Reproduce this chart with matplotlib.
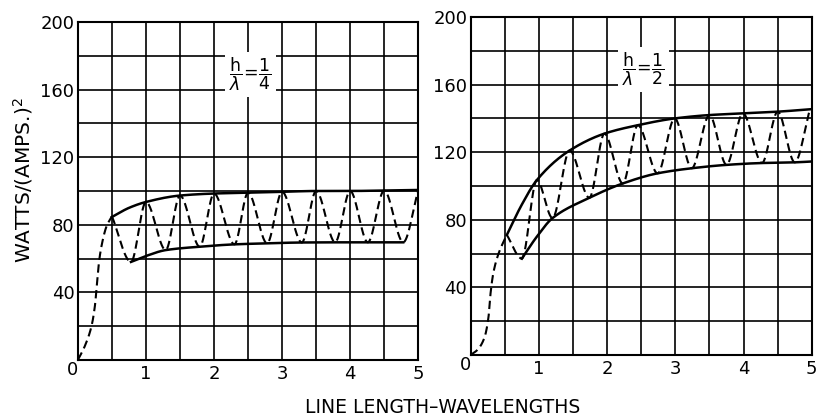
import numpy as np
import matplotlib.pyplot as plt

# h/lambda = 1/4 : rise from the origin, then standing-wave swing between envelopes
rise_x_q = [0.0, 0.10, 0.20, 0.25, 0.28, 0.31, 0.36, 0.42, 0.50]
rise_y_q = [0.0, 8.0, 20.0, 32.0, 45.0, 58.0, 70.0, 79.0, 85.0]
swing_x_q = [0.50, 0.78, 1.00, 1.29, 1.50, 1.79, 2.00, 2.30, 2.50, 2.78, 3.00,
             3.29, 3.50, 3.78, 4.00, 4.26, 4.50, 4.78, 5.00]
swing_y_q = [85.0, 58.0, 93.5, 65.0, 97.3, 67.0, 98.5, 68.4, 99.0, 69.0, 99.5,
             69.5, 100.0, 69.6, 100.0, 69.6, 100.3, 69.6, 100.6]
upper_x_q = [0.50, 0.75, 1.00, 1.50, 2.00, 2.50, 3.00, 3.50, 4.00, 4.50, 5.00]
upper_y_q = [84.6, 90.0, 93.5, 97.3, 98.5, 99.0, 99.5, 100.0, 100.0, 100.3, 100.6]
lower_x_q = [0.78, 1.00, 1.29, 1.79, 2.30, 2.78, 3.29, 3.78, 4.26, 4.78]
lower_y_q = [58.0, 61.5, 65.0, 67.0, 68.4, 69.0, 69.5, 69.6, 69.6, 69.6]

# h/lambda = 1/2
rise_x_h = [0.0, 0.10, 0.20, 0.26, 0.29, 0.33, 0.40, 0.47, 0.53]
rise_y_h = [0.0, 3.0, 10.0, 22.0, 36.0, 48.0, 59.0, 66.0, 71.0]
swing_x_h = [0.53, 0.75, 0.97, 1.20, 1.45, 1.74, 1.96, 2.23, 2.45, 2.74, 2.99,
             3.24, 3.50, 3.75, 3.99, 4.27, 4.50, 4.75, 4.97]
swing_y_h = [71.0, 57.0, 103.5, 81.0, 121.0, 93.0, 131.0, 101.5, 136.0, 107.5, 140.0,
             110.5, 142.0, 112.5, 143.0, 113.6, 144.0, 114.0, 145.0]
upper_x_h = [0.53, 0.75, 0.97, 1.45, 1.96, 2.45, 2.99, 3.50, 3.99, 4.50, 5.00]
upper_y_h = [71.0, 89.0, 103.5, 121.0, 131.0, 136.0, 140.0, 142.0, 143.0, 144.0, 145.5]
lower_x_h = [0.75, 0.97, 1.20, 1.74, 2.23, 2.74, 3.24, 3.75, 4.27, 4.75, 5.00]
lower_y_h = [57.0, 70.0, 81.0, 93.0, 101.5, 107.5, 110.5, 112.5, 113.6, 114.0, 114.5]

x_ticks = [1, 2, 3, 4, 5]
y_ticks = [40, 80, 120, 160, 200]


def pchip(x, y, n=30):
    """Monotone cubic through the points (Fritsch-Carlson)."""
    x = np.asarray(x, float)
    y = np.asarray(y, float)
    h = np.diff(x)
    d = np.diff(y) / h
    m = np.zeros_like(y)
    for k in range(1, len(x) - 1):
        if d[k - 1] * d[k] > 0:
            w1 = 2 * h[k] + h[k - 1]
            w2 = h[k] + 2 * h[k - 1]
            m[k] = (w1 + w2) / (w1 / d[k - 1] + w2 / d[k])
    m[0] = d[0]
    m[-1] = d[-1]
    xs, ys = [], []
    for k in range(len(x) - 1):
        t = np.linspace(0, 1, n, endpoint=(k == len(x) - 2))
        h00 = 2 * t**3 - 3 * t**2 + 1
        h10 = t**3 - 2 * t**2 + t
        h01 = -2 * t**3 + 3 * t**2
        h11 = t**3 - t**2
        xs.append(x[k] + t * h[k])
        ys.append(h00 * y[k] + h10 * h[k] * m[k] + h01 * y[k + 1] + h11 * h[k] * m[k + 1])
    return np.concatenate(xs), np.concatenate(ys)


def panel(ax, rise, swing, upper, lower, label):
    ax.set_xlim(0, 5)
    ax.set_ylim(0, 200)
    ax.set_xticks(x_ticks)
    ax.set_xticks(np.arange(0.5, 5, 0.5), minor=True)
    ax.set_yticks(y_ticks)
    ax.set_yticks(np.arange(20, 200, 20), minor=True)
    ax.grid(True, which='both', color='black', lw=1.2)
    ax.set_axisbelow(True)
    ax.tick_params(which='both', length=0)
    ax.tick_params(axis='x', pad=4, labelsize=13)
    ax.tick_params(axis='y', pad=2.5, labelsize=13)
    for s in ax.spines.values():
        s.set_linewidth(1.5)
    ax.text(-0.015, -0.03, '0', transform=ax.transAxes, ha='center', va='center', fontsize=13)

    dash = dict(color='black', lw=1.5, ls=(0, (4, 2.2)))
    ax.plot(*pchip(*rise), **dash)
    ax.plot(*pchip(*swing), **dash)
    ax.plot(*pchip(*upper), color='black', lw=1.8)
    ax.plot(*pchip(*lower), color='black', lw=1.8)

    ax.text(2.53, 169, label, ha='center', va='center', fontsize=12.5,
            bbox=dict(facecolor='white', edgecolor='none', pad=3))


fig = plt.figure(figsize=(8.2, 4.17), dpi=100)
ax1 = fig.add_axes([0.095, 0.137, 0.415, 0.810])
ax2 = fig.add_axes([0.574, 0.149, 0.416, 0.810])

panel(ax1, (rise_x_q, rise_y_q), (swing_x_q, swing_y_q), (upper_x_q, upper_y_q),
      (lower_x_q, lower_y_q), r'$\dfrac{\mathrm{h}}{\lambda}\!=\!\dfrac{1}{4}$')
panel(ax2, (rise_x_h, rise_y_h), (swing_x_h, swing_y_h), (upper_x_h, upper_y_h),
      (lower_x_h, lower_y_h), r'$\dfrac{\mathrm{h}}{\lambda}\!=\!\dfrac{1}{2}$')

fig.text(0.028, 0.568, 'WATTS/(AMPS.)$^2$', rotation=90, ha='center', va='center', fontsize=14.5)
fig.text(0.54, 0.022, 'LINE LENGTH–WAVELENGTHS', ha='center', va='center', fontsize=13.5)

fig.savefig('out.png', dpi=100)
